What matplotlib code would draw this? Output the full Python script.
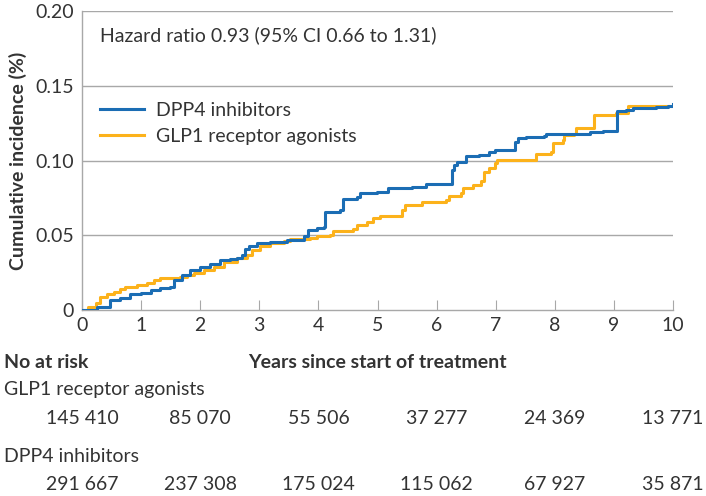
import numpy as np
import matplotlib
matplotlib.use("Agg")
import matplotlib.pyplot as plt
from matplotlib.transforms import blended_transform_factory

plt.rcParams['font.family'] = ['Lato', 'DejaVu Sans']

# step curves (years, cumulative incidence %)
dpp4_t = [0, 0.25, 0.48, 0.65, 0.82, 0.99, 1.16, 1.32, 1.49, 1.55, 1.69, 1.83, 2.0, 2.17,
          2.34, 2.5, 2.62, 2.7, 2.76, 2.82, 2.96, 3.18, 3.47, 3.75, 3.83, 3.97, 4.09, 4.11,
          4.37, 4.42, 4.65, 4.7, 4.99, 5.17, 5.59, 5.82, 6.26, 6.3, 6.34, 6.5, 6.72, 6.89,
          6.98, 7.32, 7.37, 7.51, 7.82, 7.85, 8.59, 8.81, 9.05, 9.21, 9.32, 9.72, 9.92, 10.0]
dpp4_y = [0, 0.002, 0.0067, 0.008, 0.0105, 0.0116, 0.0134, 0.0145, 0.0156, 0.020, 0.0234,
          0.027, 0.029, 0.031, 0.0335, 0.034, 0.0346, 0.037, 0.041, 0.043, 0.045, 0.0458,
          0.047, 0.0496, 0.0536, 0.055, 0.0558, 0.0658, 0.067, 0.0743, 0.0754, 0.078, 0.0792,
          0.0815, 0.0826, 0.084, 0.0938, 0.097, 0.0993, 0.1027, 0.1038, 0.1054, 0.107, 0.1127,
          0.115, 0.116, 0.1165, 0.118, 0.1188, 0.120, 0.1328, 0.134, 0.135, 0.1355, 0.1366, 0.1377]

glp1_t = [0, 0.1, 0.23, 0.31, 0.42, 0.54, 0.65, 0.73, 0.93, 1.1, 1.21, 1.32, 1.49, 1.66,
          1.78, 1.89, 2.06, 2.23, 2.4, 2.62, 2.79, 2.87, 3.02, 3.18, 3.41, 3.52, 3.86, 3.97,
          4.2, 4.25, 4.59, 4.65, 4.82, 4.93, 5.05, 5.42, 5.47, 5.76, 6.16, 6.21, 6.41, 6.44,
          6.61, 6.75, 6.81, 6.89, 6.98, 7.03, 7.68, 7.94, 7.97, 8.14, 8.16, 8.33, 8.36, 8.67,
          9.04, 9.24, 10.0]
glp1_y = [0, 0.002, 0.0045, 0.009, 0.011, 0.0123, 0.014, 0.0156, 0.0167, 0.0179, 0.020,
          0.0212, 0.0217, 0.0223, 0.0234, 0.025, 0.0268, 0.029, 0.0324, 0.0346, 0.0368, 0.040,
          0.043, 0.0446, 0.0464, 0.0473, 0.048, 0.0496, 0.0502, 0.053, 0.054, 0.0569, 0.059,
          0.0614, 0.063, 0.0666, 0.0703, 0.0725, 0.0737, 0.076, 0.078, 0.0815, 0.0837, 0.086,
          0.0926, 0.0949, 0.0982, 0.1004, 0.1045, 0.106, 0.1116, 0.1138, 0.1172, 0.118, 0.1216,
          0.1306, 0.1317, 0.1366, 0.1366]

risk_years = [0, 2, 4, 6, 8, 10]
glp1_risk = ["145 410", "85 070", "55 506", "37 277", "24 369", "13 771"]
dpp4_risk = ["291 667", "237 308", "175 024", "115 062", "67 927", "35 871"]

blue = '#1b6db4'
orange = '#fcb21b'
txt = '#333333'
grey = '#a8a8a8'

W, H = 706, 496
fig = plt.figure(figsize=(W / 100, H / 100), dpi=100)
ax = fig.add_axes([82 / W, 1 - 310 / H, (673 - 82) / W, (310 - 11) / H])

ax.step(dpp4_t, dpp4_y, where='post', color=blue, lw=2.2, label='DPP4 inhibitors', zorder=3)
ax.step(glp1_t, glp1_y, where='post', color=orange, lw=2.2, label='GLP1 receptor agonists', zorder=2)

ax.set_xlim(0, 10)
ax.set_ylim(0, 0.20)
ax.set_xticks(range(0, 11))
ax.set_yticks([0, 0.05, 0.10, 0.15, 0.20])
ax.set_yticklabels(['0', '0.05', '0.10', '0.15', '0.20'])
for v in [0.05, 0.10, 0.15, 0.20]:
    ax.axhline(v, color=grey, lw=1, zorder=1)

for s in ['top', 'right']:
    ax.spines[s].set_visible(False)
for s in ['left', 'bottom']:
    ax.spines[s].set_color(grey)
    ax.spines[s].set_linewidth(1)
ax.tick_params(axis='x', direction='in', length=7, color=grey, labelsize=14, labelcolor=txt, pad=5)
ax.tick_params(axis='y', length=0, labelsize=14, labelcolor=txt, pad=6)

ax.set_ylabel('Cumulative incidence (%)', fontsize=14, fontweight='bold', color=txt, labelpad=6)

ax.text(0.3, 0.184, 'Hazard ratio 0.93 (95% CI 0.66 to 1.31)', fontsize=14, color=txt,
        va='center', ha='left')

leg = ax.legend(loc='upper left', bbox_to_anchor=(0.0, 0.755), frameon=False, fontsize=14,
                handlelength=2.3, handletextpad=0.6, labelspacing=0.45)
for t in leg.get_texts():
    t.set_color(txt)

def fy(px):
    return 1 - px / H

fig.text(4 / W, fy(362), 'No at risk', fontsize=14, fontweight='bold', color=txt, va='center')
fig.text(377 / W, fy(362), 'Years since start of treatment', fontsize=14, fontweight='bold',
         color=txt, va='center', ha='center')
fig.text(4 / W, fy(390), 'GLP1 receptor agonists', fontsize=14, color=txt, va='center')
fig.text(4 / W, fy(456), 'DPP4 inhibitors', fontsize=14, color=txt, va='center')

tr = blended_transform_factory(ax.transData, fig.transFigure)
for x, a, b in zip(risk_years, glp1_risk, dpp4_risk):
    ax.text(x, fy(418), a, transform=tr, fontsize=14, color=txt, ha='center', va='center')
    ax.text(x, fy(484), b, transform=tr, fontsize=14, color=txt, ha='center', va='center')

fig.savefig('out.png', dpi=100)
